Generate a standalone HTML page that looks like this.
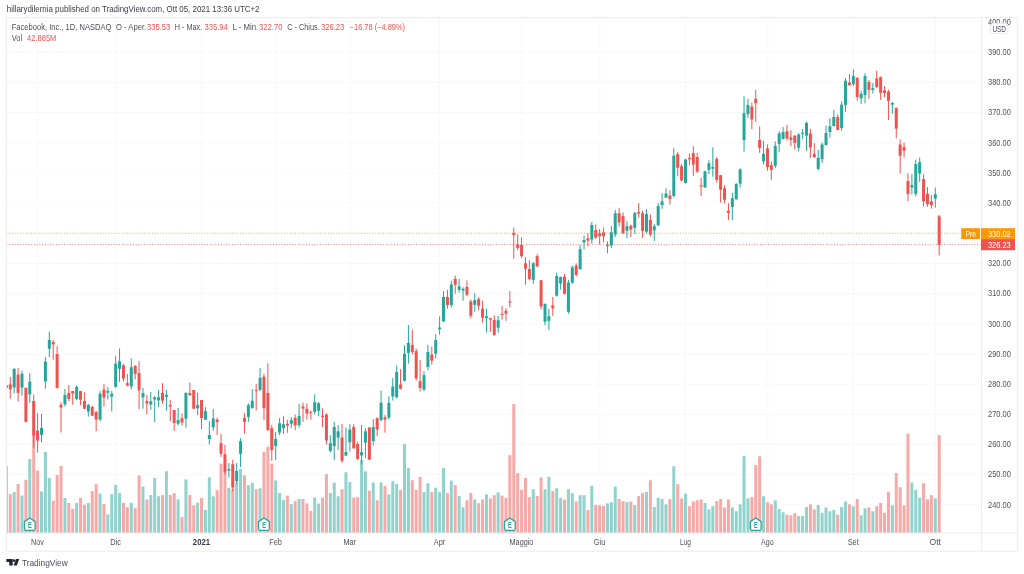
<!DOCTYPE html>
<html><head><meta charset="utf-8"><title>FB chart</title>
<style>
html,body{margin:0;padding:0;background:#fff;}
body{width:1024px;height:574px;overflow:hidden;position:relative;font-family:"Liberation Sans",sans-serif;}
svg{position:absolute;left:0;top:0;filter:blur(0.3px);}
text{font-family:"Liberation Sans",sans-serif;}
</style></head><body>
<svg width="1024" height="574" viewBox="0 0 1024 574">
<rect x="0" y="0" width="1024" height="574" fill="#ffffff"/>

<g stroke="#f7f8f9" stroke-width="1" shape-rendering="auto">
<line x1="6.4" y1="504.75" x2="981.5" y2="504.75"/>
<line x1="6.4" y1="474.59" x2="981.5" y2="474.59"/>
<line x1="6.4" y1="444.42" x2="981.5" y2="444.42"/>
<line x1="6.4" y1="414.25" x2="981.5" y2="414.25"/>
<line x1="6.4" y1="384.09" x2="981.5" y2="384.09"/>
<line x1="6.4" y1="353.92" x2="981.5" y2="353.92"/>
<line x1="6.4" y1="323.75" x2="981.5" y2="323.75"/>
<line x1="6.4" y1="293.59" x2="981.5" y2="293.59"/>
<line x1="6.4" y1="263.42" x2="981.5" y2="263.42"/>
<line x1="6.4" y1="233.25" x2="981.5" y2="233.25"/>
<line x1="6.4" y1="203.09" x2="981.5" y2="203.09"/>
<line x1="6.4" y1="172.92" x2="981.5" y2="172.92"/>
<line x1="6.4" y1="142.75" x2="981.5" y2="142.75"/>
<line x1="6.4" y1="112.58" x2="981.5" y2="112.58"/>
<line x1="6.4" y1="82.42" x2="981.5" y2="82.42"/>
<line x1="6.4" y1="52.25" x2="981.5" y2="52.25"/>
<line x1="6.4" y1="21.40" x2="981.5" y2="21.40"/>
<line x1="37.70" y1="17.5" x2="37.70" y2="533.0"/>
<line x1="115.60" y1="17.5" x2="115.60" y2="533.0"/>
<line x1="201.50" y1="17.5" x2="201.50" y2="533.0"/>
<line x1="275.50" y1="17.5" x2="275.50" y2="533.0"/>
<line x1="350.30" y1="17.5" x2="350.30" y2="533.0"/>
<line x1="439.40" y1="17.5" x2="439.40" y2="533.0"/>
<line x1="521.70" y1="17.5" x2="521.70" y2="533.0"/>
<line x1="599.90" y1="17.5" x2="599.90" y2="533.0"/>
<line x1="685.40" y1="17.5" x2="685.40" y2="533.0"/>
<line x1="767.90" y1="17.5" x2="767.90" y2="533.0"/>
<line x1="853.40" y1="17.5" x2="853.40" y2="533.0"/>
<line x1="935.50" y1="17.5" x2="935.50" y2="533.0"/>
</g>
<clipPath id="cp"><rect x="6.9" y="17.5" width="974.6" height="515.5"/></clipPath>
<g clip-path="url(#cp)">
<g fill="#92d2cc"><rect x="12.68" y="492.10" width="3.00" height="40.90"/><rect x="20.49" y="495.50" width="3.00" height="37.50"/><rect x="28.29" y="459.00" width="3.00" height="74.00"/><rect x="40.00" y="491.50" width="3.00" height="41.50"/><rect x="43.91" y="451.90" width="3.00" height="81.10"/><rect x="47.81" y="477.90" width="3.00" height="55.10"/><rect x="63.42" y="498.00" width="3.00" height="35.00"/><rect x="75.13" y="502.90" width="3.00" height="30.10"/><rect x="86.84" y="502.90" width="3.00" height="30.10"/><rect x="98.55" y="493.60" width="3.00" height="39.40"/><rect x="106.35" y="514.40" width="3.00" height="18.60"/><rect x="110.26" y="494.10" width="3.00" height="38.90"/><rect x="114.16" y="484.90" width="3.00" height="48.10"/><rect x="118.06" y="492.90" width="3.00" height="40.10"/><rect x="129.77" y="502.75" width="3.00" height="30.25"/><rect x="141.48" y="486.50" width="3.00" height="46.50"/><rect x="149.29" y="495.00" width="3.00" height="38.00"/><rect x="153.19" y="478.10" width="3.00" height="54.90"/><rect x="157.09" y="496.25" width="3.00" height="36.75"/><rect x="164.90" y="471.25" width="3.00" height="61.75"/><rect x="176.61" y="499.40" width="3.00" height="33.60"/><rect x="184.41" y="479.40" width="3.00" height="53.60"/><rect x="196.12" y="502.75" width="3.00" height="30.25"/><rect x="203.93" y="510.00" width="3.00" height="23.00"/><rect x="207.83" y="477.25" width="3.00" height="55.75"/><rect x="211.73" y="496.25" width="3.00" height="36.75"/><rect x="227.35" y="487.90" width="3.00" height="45.10"/><rect x="235.15" y="482.50" width="3.00" height="50.50"/><rect x="239.06" y="469.00" width="3.00" height="64.00"/><rect x="246.86" y="485.10" width="3.00" height="47.90"/><rect x="250.76" y="482.70" width="3.00" height="50.30"/><rect x="258.57" y="488.30" width="3.00" height="44.70"/><rect x="274.18" y="480.50" width="3.00" height="52.50"/><rect x="278.09" y="493.10" width="3.00" height="39.90"/><rect x="281.99" y="500.20" width="3.00" height="32.80"/><rect x="289.80" y="504.20" width="3.00" height="28.80"/><rect x="297.60" y="499.00" width="3.00" height="34.00"/><rect x="313.21" y="497.70" width="3.00" height="35.30"/><rect x="317.12" y="503.60" width="3.00" height="29.40"/><rect x="328.83" y="493.10" width="3.00" height="39.90"/><rect x="332.73" y="482.70" width="3.00" height="50.30"/><rect x="336.63" y="496.20" width="3.00" height="36.80"/><rect x="344.44" y="472.20" width="3.00" height="60.80"/><rect x="348.34" y="482.00" width="3.00" height="51.00"/><rect x="360.05" y="460.00" width="3.00" height="73.00"/><rect x="363.95" y="471.40" width="3.00" height="61.60"/><rect x="371.76" y="482.50" width="3.00" height="50.50"/><rect x="379.56" y="482.50" width="3.00" height="50.50"/><rect x="387.37" y="494.40" width="3.00" height="38.60"/><rect x="391.27" y="481.20" width="3.00" height="51.80"/><rect x="395.18" y="484.00" width="3.00" height="49.00"/><rect x="402.98" y="443.90" width="3.00" height="89.10"/><rect x="406.89" y="468.00" width="3.00" height="65.00"/><rect x="422.50" y="492.10" width="3.00" height="40.90"/><rect x="426.40" y="483.30" width="3.00" height="49.70"/><rect x="434.21" y="487.70" width="3.00" height="45.30"/><rect x="438.11" y="492.10" width="3.00" height="40.90"/><rect x="442.01" y="468.00" width="3.00" height="65.00"/><rect x="449.82" y="480.60" width="3.00" height="52.40"/><rect x="457.62" y="496.10" width="3.00" height="36.90"/><rect x="461.53" y="507.40" width="3.00" height="25.60"/><rect x="473.24" y="499.40" width="3.00" height="33.60"/><rect x="484.95" y="494.40" width="3.00" height="38.60"/><rect x="496.65" y="492.40" width="3.00" height="40.60"/><rect x="531.78" y="489.20" width="3.00" height="43.80"/><rect x="543.49" y="489.20" width="3.00" height="43.80"/><rect x="547.39" y="476.80" width="3.00" height="56.20"/><rect x="555.20" y="488.30" width="3.00" height="44.70"/><rect x="559.10" y="498.00" width="3.00" height="35.00"/><rect x="566.91" y="489.20" width="3.00" height="43.80"/><rect x="570.81" y="493.10" width="3.00" height="39.90"/><rect x="578.62" y="495.20" width="3.00" height="37.80"/><rect x="582.52" y="495.20" width="3.00" height="37.80"/><rect x="590.33" y="485.80" width="3.00" height="47.20"/><rect x="605.94" y="503.40" width="3.00" height="29.60"/><rect x="609.84" y="502.20" width="3.00" height="30.80"/><rect x="613.74" y="486.50" width="3.00" height="46.50"/><rect x="625.45" y="502.20" width="3.00" height="30.80"/><rect x="633.26" y="505.00" width="3.00" height="28.00"/><rect x="644.97" y="491.90" width="3.00" height="41.10"/><rect x="652.77" y="506.90" width="3.00" height="26.10"/><rect x="656.68" y="497.80" width="3.00" height="35.20"/><rect x="660.58" y="499.00" width="3.00" height="34.00"/><rect x="664.48" y="504.30" width="3.00" height="28.70"/><rect x="672.29" y="466.40" width="3.00" height="66.60"/><rect x="684.00" y="493.70" width="3.00" height="39.30"/><rect x="703.51" y="503.00" width="3.00" height="30.00"/><rect x="707.42" y="509.40" width="3.00" height="23.60"/><rect x="711.32" y="506.20" width="3.00" height="26.80"/><rect x="730.83" y="507.40" width="3.00" height="25.60"/><rect x="734.74" y="511.30" width="3.00" height="21.70"/><rect x="738.64" y="504.30" width="3.00" height="28.70"/><rect x="742.54" y="455.90" width="3.00" height="77.10"/><rect x="746.45" y="498.40" width="3.00" height="34.60"/><rect x="762.06" y="496.30" width="3.00" height="36.70"/><rect x="773.77" y="500.30" width="3.00" height="32.70"/><rect x="777.67" y="509.10" width="3.00" height="23.90"/><rect x="781.57" y="512.20" width="3.00" height="20.80"/><rect x="797.19" y="516.00" width="3.00" height="17.00"/><rect x="801.09" y="516.00" width="3.00" height="17.00"/><rect x="804.99" y="506.90" width="3.00" height="26.10"/><rect x="816.70" y="505.00" width="3.00" height="28.00"/><rect x="820.60" y="512.80" width="3.00" height="20.20"/><rect x="824.51" y="507.40" width="3.00" height="25.60"/><rect x="828.41" y="511.30" width="3.00" height="21.70"/><rect x="832.31" y="510.10" width="3.00" height="22.90"/><rect x="840.12" y="506.90" width="3.00" height="26.10"/><rect x="844.02" y="501.50" width="3.00" height="31.50"/><rect x="851.83" y="506.20" width="3.00" height="26.80"/><rect x="859.63" y="515.30" width="3.00" height="17.70"/><rect x="863.54" y="508.20" width="3.00" height="24.80"/><rect x="871.34" y="511.30" width="3.00" height="21.70"/><rect x="890.86" y="505.30" width="3.00" height="27.70"/><rect x="910.37" y="482.50" width="3.00" height="50.50"/><rect x="914.27" y="489.90" width="3.00" height="43.10"/><rect x="918.18" y="497.80" width="3.00" height="35.20"/><rect x="933.79" y="498.40" width="3.00" height="34.60"/></g>
<g fill="#f7a9a7"><rect x="4.88" y="466.00" width="3.00" height="67.00"/><rect x="8.78" y="494.10" width="3.00" height="38.90"/><rect x="16.59" y="484.00" width="3.00" height="49.00"/><rect x="24.39" y="479.75" width="3.00" height="53.25"/><rect x="32.20" y="434.00" width="3.00" height="99.00"/><rect x="36.10" y="470.60" width="3.00" height="62.40"/><rect x="51.71" y="500.80" width="3.00" height="32.20"/><rect x="55.62" y="475.00" width="3.00" height="58.00"/><rect x="59.52" y="466.00" width="3.00" height="67.00"/><rect x="67.32" y="502.90" width="3.00" height="30.10"/><rect x="71.23" y="508.75" width="3.00" height="24.25"/><rect x="79.03" y="498.10" width="3.00" height="34.90"/><rect x="82.94" y="504.75" width="3.00" height="28.25"/><rect x="90.74" y="491.00" width="3.00" height="42.00"/><rect x="94.65" y="484.30" width="3.00" height="48.70"/><rect x="102.45" y="504.00" width="3.00" height="29.00"/><rect x="121.97" y="502.80" width="3.00" height="30.20"/><rect x="125.87" y="507.25" width="3.00" height="25.75"/><rect x="133.68" y="508.10" width="3.00" height="24.90"/><rect x="137.58" y="475.40" width="3.00" height="57.60"/><rect x="145.38" y="499.40" width="3.00" height="33.60"/><rect x="161.00" y="495.00" width="3.00" height="38.00"/><rect x="168.80" y="495.00" width="3.00" height="38.00"/><rect x="172.70" y="493.10" width="3.00" height="39.90"/><rect x="180.51" y="517.10" width="3.00" height="15.90"/><rect x="188.32" y="495.00" width="3.00" height="38.00"/><rect x="192.22" y="505.25" width="3.00" height="27.75"/><rect x="200.03" y="498.10" width="3.00" height="34.90"/><rect x="215.64" y="490.25" width="3.00" height="42.75"/><rect x="219.54" y="463.60" width="3.00" height="69.40"/><rect x="223.44" y="472.00" width="3.00" height="61.00"/><rect x="231.25" y="488.75" width="3.00" height="44.25"/><rect x="242.96" y="475.40" width="3.00" height="57.60"/><rect x="254.67" y="489.20" width="3.00" height="43.80"/><rect x="262.47" y="451.90" width="3.00" height="81.10"/><rect x="266.38" y="446.60" width="3.00" height="86.40"/><rect x="270.28" y="463.60" width="3.00" height="69.40"/><rect x="285.89" y="495.60" width="3.00" height="37.40"/><rect x="293.70" y="501.10" width="3.00" height="31.90"/><rect x="301.50" y="499.00" width="3.00" height="34.00"/><rect x="305.41" y="503.40" width="3.00" height="29.60"/><rect x="309.31" y="510.90" width="3.00" height="22.10"/><rect x="321.02" y="497.70" width="3.00" height="35.30"/><rect x="324.92" y="474.10" width="3.00" height="58.90"/><rect x="340.53" y="489.20" width="3.00" height="43.80"/><rect x="352.24" y="497.70" width="3.00" height="35.30"/><rect x="356.15" y="497.10" width="3.00" height="35.90"/><rect x="367.86" y="490.60" width="3.00" height="42.40"/><rect x="375.66" y="500.30" width="3.00" height="32.70"/><rect x="383.47" y="485.80" width="3.00" height="47.20"/><rect x="399.08" y="489.90" width="3.00" height="43.10"/><rect x="410.79" y="480.20" width="3.00" height="52.80"/><rect x="414.69" y="489.90" width="3.00" height="43.10"/><rect x="418.59" y="476.80" width="3.00" height="56.20"/><rect x="430.30" y="492.10" width="3.00" height="40.90"/><rect x="445.92" y="493.10" width="3.00" height="39.90"/><rect x="453.72" y="485.20" width="3.00" height="47.80"/><rect x="465.43" y="500.30" width="3.00" height="32.70"/><rect x="469.33" y="493.10" width="3.00" height="39.90"/><rect x="477.14" y="503.20" width="3.00" height="29.80"/><rect x="481.04" y="499.40" width="3.00" height="33.60"/><rect x="488.85" y="498.40" width="3.00" height="34.60"/><rect x="492.75" y="495.20" width="3.00" height="37.80"/><rect x="500.56" y="495.60" width="3.00" height="37.40"/><rect x="504.46" y="497.80" width="3.00" height="35.20"/><rect x="508.36" y="455.20" width="3.00" height="77.80"/><rect x="512.27" y="404.00" width="3.00" height="129.00"/><rect x="516.17" y="473.00" width="3.00" height="60.00"/><rect x="520.07" y="489.90" width="3.00" height="43.10"/><rect x="523.98" y="478.10" width="3.00" height="54.90"/><rect x="527.88" y="497.10" width="3.00" height="35.90"/><rect x="535.68" y="496.10" width="3.00" height="36.90"/><rect x="539.59" y="477.30" width="3.00" height="55.70"/><rect x="551.30" y="491.10" width="3.00" height="41.90"/><rect x="563.00" y="499.60" width="3.00" height="33.40"/><rect x="574.71" y="501.50" width="3.00" height="31.50"/><rect x="586.42" y="510.10" width="3.00" height="22.90"/><rect x="594.23" y="504.90" width="3.00" height="28.10"/><rect x="598.13" y="505.30" width="3.00" height="27.70"/><rect x="602.04" y="505.90" width="3.00" height="27.10"/><rect x="617.65" y="499.00" width="3.00" height="34.00"/><rect x="621.55" y="501.10" width="3.00" height="31.90"/><rect x="629.36" y="501.50" width="3.00" height="31.50"/><rect x="637.16" y="496.10" width="3.00" height="36.90"/><rect x="641.07" y="493.10" width="3.00" height="39.90"/><rect x="648.87" y="480.20" width="3.00" height="52.80"/><rect x="668.39" y="499.00" width="3.00" height="34.00"/><rect x="676.19" y="484.20" width="3.00" height="48.80"/><rect x="680.10" y="498.40" width="3.00" height="34.60"/><rect x="687.90" y="506.20" width="3.00" height="26.80"/><rect x="691.80" y="501.50" width="3.00" height="31.50"/><rect x="695.71" y="500.30" width="3.00" height="32.70"/><rect x="699.61" y="499.40" width="3.00" height="33.60"/><rect x="715.22" y="501.10" width="3.00" height="31.90"/><rect x="719.12" y="499.00" width="3.00" height="34.00"/><rect x="723.03" y="507.40" width="3.00" height="25.60"/><rect x="726.93" y="499.40" width="3.00" height="33.60"/><rect x="750.35" y="497.10" width="3.00" height="35.90"/><rect x="754.25" y="465.10" width="3.00" height="67.90"/><rect x="758.15" y="456.30" width="3.00" height="76.70"/><rect x="765.96" y="502.20" width="3.00" height="30.80"/><rect x="769.86" y="504.30" width="3.00" height="28.70"/><rect x="785.48" y="514.70" width="3.00" height="18.30"/><rect x="789.38" y="515.30" width="3.00" height="17.70"/><rect x="793.28" y="513.20" width="3.00" height="19.80"/><rect x="808.89" y="504.30" width="3.00" height="28.70"/><rect x="812.80" y="509.40" width="3.00" height="23.60"/><rect x="836.22" y="514.70" width="3.00" height="18.30"/><rect x="847.92" y="504.30" width="3.00" height="28.70"/><rect x="855.73" y="499.00" width="3.00" height="34.00"/><rect x="867.44" y="507.40" width="3.00" height="25.60"/><rect x="875.25" y="506.20" width="3.00" height="26.80"/><rect x="879.15" y="503.00" width="3.00" height="30.00"/><rect x="883.05" y="512.80" width="3.00" height="20.20"/><rect x="886.95" y="491.90" width="3.00" height="41.10"/><rect x="894.76" y="473.00" width="3.00" height="60.00"/><rect x="898.66" y="487.30" width="3.00" height="45.70"/><rect x="902.57" y="505.30" width="3.00" height="27.70"/><rect x="906.47" y="433.60" width="3.00" height="99.40"/><rect x="922.08" y="483.30" width="3.00" height="49.70"/><rect x="925.98" y="499.40" width="3.00" height="33.60"/><rect x="929.89" y="495.20" width="3.00" height="37.80"/><rect x="937.69" y="435.10" width="3.00" height="97.90"/></g>
<g fill="#26a69a"><rect x="13.68" y="368.00" width="1" height="25.50"/><rect x="12.68" y="369.00" width="3.00" height="18.50"/><rect x="21.49" y="370.60" width="1" height="25.00"/><rect x="20.49" y="373.75" width="3.00" height="13.85"/><rect x="29.29" y="373.10" width="1" height="29.80"/><rect x="28.29" y="381.60" width="3.00" height="12.80"/><rect x="41.00" y="413.75" width="1" height="28.65"/><rect x="40.00" y="427.90" width="3.00" height="7.00"/><rect x="44.91" y="356.90" width="1" height="31.70"/><rect x="43.91" y="361.60" width="3.00" height="19.80"/><rect x="48.81" y="331.50" width="1" height="25.75"/><rect x="47.81" y="340.00" width="3.00" height="8.75"/><rect x="64.42" y="389.00" width="1" height="17.60"/><rect x="63.42" y="395.00" width="3.00" height="9.40"/><rect x="76.13" y="385.60" width="1" height="14.40"/><rect x="75.13" y="386.90" width="3.00" height="12.10"/><rect x="87.84" y="403.75" width="1" height="12.85"/><rect x="86.84" y="405.00" width="3.00" height="6.50"/><rect x="99.55" y="391.00" width="1" height="30.25"/><rect x="98.55" y="393.75" width="3.00" height="25.85"/><rect x="107.35" y="387.00" width="1" height="12.60"/><rect x="106.35" y="391.00" width="3.00" height="1.75"/><rect x="111.26" y="391.00" width="1" height="20.50"/><rect x="110.26" y="393.75" width="3.00" height="2.85"/><rect x="115.16" y="356.25" width="1" height="31.25"/><rect x="114.16" y="363.75" width="3.00" height="23.15"/><rect x="119.06" y="348.50" width="1" height="33.40"/><rect x="118.06" y="361.25" width="3.00" height="7.50"/><rect x="130.77" y="358.50" width="1" height="31.10"/><rect x="129.77" y="367.25" width="3.00" height="19.25"/><rect x="142.48" y="387.75" width="1" height="21.00"/><rect x="141.48" y="393.10" width="3.00" height="4.40"/><rect x="150.29" y="391.90" width="1" height="18.10"/><rect x="149.29" y="401.25" width="3.00" height="3.15"/><rect x="154.19" y="396.25" width="1" height="25.65"/><rect x="153.19" y="397.25" width="3.00" height="2.15"/><rect x="158.09" y="390.00" width="1" height="16.90"/><rect x="157.09" y="397.25" width="3.00" height="3.15"/><rect x="165.90" y="390.00" width="1" height="20.60"/><rect x="164.90" y="394.75" width="3.00" height="2.15"/><rect x="177.61" y="408.00" width="1" height="17.60"/><rect x="176.61" y="420.00" width="3.00" height="3.75"/><rect x="185.41" y="392.75" width="1" height="35.00"/><rect x="184.41" y="392.75" width="3.00" height="26.00"/><rect x="197.12" y="392.75" width="1" height="22.50"/><rect x="196.12" y="404.90" width="3.00" height="3.40"/><rect x="204.93" y="407.10" width="1" height="12.90"/><rect x="203.93" y="411.10" width="3.00" height="8.65"/><rect x="208.83" y="421.25" width="1" height="23.15"/><rect x="207.83" y="435.00" width="3.00" height="4.00"/><rect x="212.73" y="409.10" width="1" height="21.50"/><rect x="211.73" y="418.50" width="3.00" height="8.75"/><rect x="228.35" y="463.00" width="1" height="14.50"/><rect x="227.35" y="469.00" width="3.00" height="1.60"/><rect x="236.15" y="463.00" width="1" height="20.75"/><rect x="235.15" y="471.00" width="3.00" height="10.25"/><rect x="240.06" y="438.10" width="1" height="28.80"/><rect x="239.06" y="441.20" width="3.00" height="12.60"/><rect x="247.86" y="403.30" width="1" height="18.60"/><rect x="246.86" y="405.10" width="3.00" height="11.80"/><rect x="251.76" y="389.10" width="1" height="19.40"/><rect x="250.76" y="400.80" width="3.00" height="7.40"/><rect x="259.57" y="367.90" width="1" height="23.30"/><rect x="258.57" y="377.90" width="3.00" height="12.00"/><rect x="275.18" y="432.00" width="1" height="28.00"/><rect x="274.18" y="438.90" width="3.00" height="7.20"/><rect x="279.09" y="417.90" width="1" height="17.20"/><rect x="278.09" y="423.20" width="3.00" height="9.40"/><rect x="282.99" y="416.30" width="1" height="17.30"/><rect x="281.99" y="424.20" width="3.00" height="3.80"/><rect x="290.80" y="417.20" width="1" height="11.00"/><rect x="289.80" y="420.10" width="3.00" height="3.70"/><rect x="298.60" y="403.95" width="1" height="23.65"/><rect x="297.60" y="416.00" width="3.00" height="9.10"/><rect x="314.21" y="394.20" width="1" height="20.30"/><rect x="313.21" y="402.10" width="3.00" height="9.90"/><rect x="318.12" y="402.10" width="1" height="14.20"/><rect x="317.12" y="403.30" width="3.00" height="7.45"/><rect x="329.83" y="435.10" width="1" height="17.35"/><rect x="328.83" y="443.20" width="3.00" height="7.70"/><rect x="333.73" y="421.70" width="1" height="38.30"/><rect x="332.73" y="427.00" width="3.00" height="19.10"/><rect x="337.63" y="425.10" width="1" height="24.75"/><rect x="336.63" y="431.30" width="3.00" height="6.30"/><rect x="345.44" y="427.60" width="1" height="28.40"/><rect x="344.44" y="452.00" width="3.00" height="3.55"/><rect x="349.34" y="424.20" width="1" height="27.35"/><rect x="348.34" y="429.50" width="3.00" height="12.85"/><rect x="361.05" y="425.10" width="1" height="39.40"/><rect x="360.05" y="452.10" width="3.00" height="3.40"/><rect x="364.95" y="428.20" width="1" height="29.55"/><rect x="363.95" y="431.35" width="3.00" height="11.30"/><rect x="372.76" y="419.10" width="1" height="26.50"/><rect x="371.76" y="427.00" width="3.00" height="14.00"/><rect x="380.56" y="390.50" width="1" height="30.80"/><rect x="379.56" y="402.80" width="3.00" height="17.30"/><rect x="388.37" y="396.20" width="1" height="23.30"/><rect x="387.37" y="402.80" width="3.00" height="14.80"/><rect x="392.27" y="378.10" width="1" height="22.40"/><rect x="391.27" y="386.50" width="3.00" height="10.00"/><rect x="396.18" y="365.50" width="1" height="32.95"/><rect x="395.18" y="372.00" width="3.00" height="25.20"/><rect x="403.98" y="345.30" width="1" height="36.20"/><rect x="402.98" y="353.80" width="3.00" height="27.00"/><rect x="407.89" y="325.00" width="1" height="38.60"/><rect x="406.89" y="342.90" width="3.00" height="10.10"/><rect x="423.50" y="371.20" width="1" height="20.00"/><rect x="422.50" y="375.20" width="3.00" height="14.40"/><rect x="427.40" y="344.80" width="1" height="25.40"/><rect x="426.40" y="352.00" width="3.00" height="15.00"/><rect x="435.21" y="334.30" width="1" height="24.30"/><rect x="434.21" y="340.10" width="3.00" height="13.70"/><rect x="439.11" y="316.40" width="1" height="18.30"/><rect x="438.11" y="327.50" width="3.00" height="1.70"/><rect x="443.01" y="291.10" width="1" height="30.90"/><rect x="442.01" y="297.00" width="3.00" height="24.40"/><rect x="450.82" y="280.70" width="1" height="26.90"/><rect x="449.82" y="284.40" width="3.00" height="20.50"/><rect x="458.62" y="279.00" width="1" height="13.60"/><rect x="457.62" y="286.30" width="3.00" height="3.50"/><rect x="462.53" y="287.30" width="1" height="13.40"/><rect x="461.53" y="288.80" width="3.00" height="1.70"/><rect x="474.24" y="293.00" width="1" height="18.70"/><rect x="473.24" y="300.10" width="3.00" height="4.80"/><rect x="485.95" y="308.60" width="1" height="23.90"/><rect x="484.95" y="316.20" width="3.00" height="1.90"/><rect x="497.65" y="315.80" width="1" height="16.90"/><rect x="496.65" y="320.20" width="3.00" height="7.50"/><rect x="532.78" y="262.00" width="1" height="22.00"/><rect x="531.78" y="263.30" width="3.00" height="16.60"/><rect x="544.49" y="303.50" width="1" height="21.70"/><rect x="543.49" y="303.90" width="3.00" height="17.80"/><rect x="548.39" y="308.90" width="1" height="21.10"/><rect x="547.39" y="316.20" width="3.00" height="4.60"/><rect x="556.20" y="272.60" width="1" height="24.00"/><rect x="555.20" y="276.00" width="3.00" height="19.70"/><rect x="560.10" y="276.50" width="1" height="12.90"/><rect x="559.10" y="277.00" width="3.00" height="6.50"/><rect x="567.91" y="280.00" width="1" height="33.70"/><rect x="566.91" y="282.50" width="3.00" height="29.30"/><rect x="571.81" y="265.40" width="1" height="18.60"/><rect x="570.81" y="267.40" width="3.00" height="15.25"/><rect x="579.62" y="245.10" width="1" height="24.90"/><rect x="578.62" y="249.10" width="3.00" height="19.90"/><rect x="583.52" y="235.70" width="1" height="13.80"/><rect x="582.52" y="240.10" width="3.00" height="2.30"/><rect x="591.33" y="221.90" width="1" height="21.70"/><rect x="590.33" y="225.00" width="3.00" height="14.50"/><rect x="606.94" y="241.30" width="1" height="12.00"/><rect x="605.94" y="244.90" width="3.00" height="1.20"/><rect x="610.84" y="225.90" width="1" height="21.95"/><rect x="609.84" y="232.20" width="3.00" height="13.30"/><rect x="614.74" y="209.90" width="1" height="26.95"/><rect x="613.74" y="213.20" width="3.00" height="21.30"/><rect x="626.45" y="221.20" width="1" height="16.80"/><rect x="625.45" y="226.20" width="3.00" height="4.60"/><rect x="634.26" y="212.00" width="1" height="22.20"/><rect x="633.26" y="212.90" width="3.00" height="14.80"/><rect x="645.97" y="209.10" width="1" height="24.20"/><rect x="644.97" y="214.10" width="3.00" height="17.60"/><rect x="653.77" y="224.20" width="1" height="16.70"/><rect x="652.77" y="226.20" width="3.00" height="4.20"/><rect x="657.68" y="203.20" width="1" height="22.80"/><rect x="656.68" y="206.10" width="3.00" height="19.30"/><rect x="661.58" y="193.10" width="1" height="15.80"/><rect x="660.58" y="201.30" width="3.00" height="3.80"/><rect x="665.48" y="188.30" width="1" height="9.70"/><rect x="664.48" y="193.50" width="3.00" height="4.10"/><rect x="673.29" y="148.20" width="1" height="49.40"/><rect x="672.29" y="155.70" width="3.00" height="40.30"/><rect x="685.00" y="158.90" width="1" height="24.60"/><rect x="684.00" y="159.50" width="3.00" height="23.40"/><rect x="704.51" y="170.80" width="1" height="17.20"/><rect x="703.51" y="171.20" width="3.00" height="16.20"/><rect x="708.42" y="160.10" width="1" height="14.10"/><rect x="707.42" y="163.30" width="3.00" height="6.60"/><rect x="712.32" y="147.30" width="1" height="29.40"/><rect x="711.32" y="167.00" width="3.00" height="1.70"/><rect x="731.83" y="192.85" width="1" height="27.35"/><rect x="730.83" y="198.20" width="3.00" height="8.80"/><rect x="735.74" y="183.00" width="1" height="16.80"/><rect x="734.74" y="184.10" width="3.00" height="15.10"/><rect x="739.64" y="168.30" width="1" height="19.20"/><rect x="738.64" y="169.35" width="3.00" height="14.35"/><rect x="743.54" y="96.30" width="1" height="55.25"/><rect x="742.54" y="113.20" width="3.00" height="26.90"/><rect x="747.45" y="98.80" width="1" height="19.10"/><rect x="746.45" y="105.10" width="3.00" height="9.00"/><rect x="763.06" y="140.80" width="1" height="23.70"/><rect x="762.06" y="153.85" width="3.00" height="7.55"/><rect x="774.77" y="141.50" width="1" height="26.80"/><rect x="773.77" y="145.90" width="3.00" height="19.90"/><rect x="778.67" y="131.20" width="1" height="20.85"/><rect x="777.67" y="133.40" width="3.00" height="10.65"/><rect x="782.57" y="127.00" width="1" height="12.50"/><rect x="781.57" y="132.10" width="3.00" height="6.80"/><rect x="798.19" y="133.30" width="1" height="18.10"/><rect x="797.19" y="134.50" width="3.00" height="13.15"/><rect x="802.09" y="128.90" width="1" height="9.70"/><rect x="801.09" y="132.80" width="3.00" height="1.10"/><rect x="805.99" y="121.60" width="1" height="29.20"/><rect x="804.99" y="122.90" width="3.00" height="12.80"/><rect x="817.70" y="149.80" width="1" height="20.60"/><rect x="816.70" y="157.90" width="3.00" height="11.00"/><rect x="821.60" y="142.50" width="1" height="20.40"/><rect x="820.60" y="144.50" width="3.00" height="14.60"/><rect x="825.51" y="125.40" width="1" height="20.10"/><rect x="824.51" y="132.90" width="3.00" height="12.10"/><rect x="829.41" y="118.30" width="1" height="19.30"/><rect x="828.41" y="126.20" width="3.00" height="5.80"/><rect x="833.31" y="110.15" width="1" height="16.35"/><rect x="832.31" y="117.05" width="3.00" height="9.00"/><rect x="841.12" y="101.35" width="1" height="29.45"/><rect x="840.12" y="104.65" width="3.00" height="23.35"/><rect x="845.02" y="78.20" width="1" height="33.65"/><rect x="844.02" y="80.70" width="3.00" height="24.15"/><rect x="852.83" y="69.40" width="1" height="16.70"/><rect x="851.83" y="76.10" width="3.00" height="8.00"/><rect x="860.63" y="90.85" width="1" height="13.00"/><rect x="859.63" y="93.70" width="3.00" height="4.75"/><rect x="864.54" y="73.20" width="1" height="30.10"/><rect x="863.54" y="76.10" width="3.00" height="18.95"/><rect x="872.34" y="83.20" width="1" height="10.10"/><rect x="871.34" y="88.20" width="3.00" height="1.70"/><rect x="891.86" y="102.05" width="1" height="11.60"/><rect x="890.86" y="102.95" width="3.00" height="1.75"/><rect x="911.37" y="174.10" width="1" height="20.40"/><rect x="910.37" y="185.10" width="3.00" height="2.30"/><rect x="915.27" y="159.70" width="1" height="36.70"/><rect x="914.27" y="164.05" width="3.00" height="29.85"/><rect x="919.18" y="157.50" width="1" height="24.50"/><rect x="918.18" y="162.15" width="3.00" height="11.45"/><rect x="934.79" y="187.60" width="1" height="20.10"/><rect x="933.79" y="194.20" width="3.00" height="4.50"/></g>
<g fill="#ef5350"><rect x="5.88" y="385.00" width="1" height="3.00"/><rect x="4.88" y="385.00" width="3.00" height="3.00"/><rect x="9.78" y="376.90" width="1" height="21.85"/><rect x="8.78" y="384.40" width="3.00" height="5.00"/><rect x="17.59" y="368.10" width="1" height="33.40"/><rect x="16.59" y="374.60" width="3.00" height="18.30"/><rect x="25.39" y="387.75" width="1" height="34.75"/><rect x="24.39" y="387.75" width="3.00" height="34.15"/><rect x="33.20" y="394.40" width="1" height="53.10"/><rect x="32.20" y="401.00" width="3.00" height="34.50"/><rect x="37.10" y="413.10" width="1" height="39.40"/><rect x="36.10" y="430.60" width="3.00" height="10.00"/><rect x="52.71" y="340.00" width="1" height="19.75"/><rect x="51.71" y="341.90" width="3.00" height="2.50"/><rect x="56.62" y="346.00" width="1" height="42.50"/><rect x="55.62" y="354.00" width="3.00" height="34.00"/><rect x="60.52" y="402.25" width="1" height="30.25"/><rect x="59.52" y="404.75" width="3.00" height="2.75"/><rect x="68.32" y="385.00" width="1" height="16.00"/><rect x="67.32" y="392.90" width="3.00" height="6.10"/><rect x="72.23" y="391.00" width="1" height="13.75"/><rect x="71.23" y="391.00" width="3.00" height="2.50"/><rect x="80.03" y="391.00" width="1" height="14.00"/><rect x="79.03" y="391.00" width="3.00" height="8.75"/><rect x="83.94" y="392.25" width="1" height="16.75"/><rect x="82.94" y="401.00" width="3.00" height="7.75"/><rect x="91.74" y="405.60" width="1" height="10.40"/><rect x="90.74" y="406.90" width="3.00" height="8.70"/><rect x="95.65" y="411.00" width="1" height="20.25"/><rect x="94.65" y="411.90" width="3.00" height="7.70"/><rect x="103.45" y="384.00" width="1" height="22.50"/><rect x="102.45" y="389.60" width="3.00" height="7.90"/><rect x="122.97" y="363.90" width="1" height="17.35"/><rect x="121.97" y="365.30" width="3.00" height="13.30"/><rect x="126.87" y="374.10" width="1" height="12.40"/><rect x="125.87" y="383.10" width="3.00" height="2.50"/><rect x="134.68" y="365.00" width="1" height="14.40"/><rect x="133.68" y="366.00" width="3.00" height="8.00"/><rect x="138.58" y="361.00" width="1" height="48.40"/><rect x="137.58" y="373.10" width="3.00" height="17.30"/><rect x="146.38" y="395.00" width="1" height="19.40"/><rect x="145.38" y="400.90" width="3.00" height="2.60"/><rect x="162.00" y="383.10" width="1" height="20.65"/><rect x="161.00" y="392.90" width="3.00" height="7.70"/><rect x="169.80" y="400.00" width="1" height="21.25"/><rect x="168.80" y="404.90" width="3.00" height="1.50"/><rect x="173.70" y="410.00" width="1" height="21.00"/><rect x="172.70" y="410.00" width="3.00" height="13.10"/><rect x="181.51" y="413.50" width="1" height="12.10"/><rect x="180.51" y="418.10" width="3.00" height="4.40"/><rect x="189.32" y="382.50" width="1" height="13.50"/><rect x="188.32" y="393.10" width="3.00" height="1.90"/><rect x="193.22" y="390.00" width="1" height="19.00"/><rect x="192.22" y="390.00" width="3.00" height="18.75"/><rect x="201.03" y="400.00" width="1" height="29.40"/><rect x="200.03" y="400.00" width="3.00" height="18.10"/><rect x="216.64" y="417.75" width="1" height="17.25"/><rect x="215.64" y="419.60" width="3.00" height="2.50"/><rect x="220.54" y="434.00" width="1" height="23.10"/><rect x="219.54" y="443.10" width="3.00" height="10.65"/><rect x="224.44" y="445.00" width="1" height="29.40"/><rect x="223.44" y="454.20" width="3.00" height="17.70"/><rect x="232.25" y="459.75" width="1" height="31.50"/><rect x="231.25" y="464.20" width="3.00" height="23.30"/><rect x="243.96" y="413.20" width="1" height="20.60"/><rect x="242.96" y="417.90" width="3.00" height="4.00"/><rect x="255.67" y="383.90" width="1" height="26.60"/><rect x="254.67" y="389.90" width="3.00" height="1.00"/><rect x="263.47" y="373.80" width="1" height="46.20"/><rect x="262.47" y="376.60" width="3.00" height="31.60"/><rect x="267.38" y="363.20" width="1" height="67.50"/><rect x="266.38" y="392.90" width="3.00" height="37.20"/><rect x="271.28" y="425.10" width="1" height="35.70"/><rect x="270.28" y="428.20" width="3.00" height="21.70"/><rect x="286.89" y="419.80" width="1" height="13.10"/><rect x="285.89" y="423.80" width="3.00" height="1.70"/><rect x="294.70" y="414.50" width="1" height="15.60"/><rect x="293.70" y="417.90" width="3.00" height="7.60"/><rect x="302.50" y="402.70" width="1" height="19.00"/><rect x="301.50" y="406.50" width="3.00" height="2.10"/><rect x="306.41" y="403.30" width="1" height="16.40"/><rect x="305.41" y="408.75" width="3.00" height="4.85"/><rect x="310.31" y="410.50" width="1" height="9.20"/><rect x="309.31" y="411.80" width="3.00" height="1.00"/><rect x="322.02" y="408.40" width="1" height="18.60"/><rect x="321.02" y="415.80" width="3.00" height="1.10"/><rect x="325.92" y="413.30" width="1" height="31.20"/><rect x="324.92" y="414.50" width="3.00" height="26.00"/><rect x="341.53" y="423.80" width="1" height="39.05"/><rect x="340.53" y="437.40" width="3.00" height="23.35"/><rect x="353.24" y="424.20" width="1" height="24.60"/><rect x="352.24" y="427.00" width="3.00" height="21.25"/><rect x="357.15" y="441.40" width="1" height="18.60"/><rect x="356.15" y="444.05" width="3.00" height="14.85"/><rect x="368.86" y="427.00" width="1" height="33.00"/><rect x="367.86" y="427.60" width="3.00" height="32.00"/><rect x="376.66" y="417.30" width="1" height="19.10"/><rect x="375.66" y="418.20" width="3.00" height="11.30"/><rect x="384.47" y="415.10" width="1" height="17.50"/><rect x="383.47" y="417.30" width="3.00" height="2.20"/><rect x="400.08" y="369.10" width="1" height="20.40"/><rect x="399.08" y="384.60" width="3.00" height="4.10"/><rect x="411.79" y="329.60" width="1" height="24.90"/><rect x="410.79" y="344.80" width="3.00" height="7.20"/><rect x="415.69" y="348.60" width="1" height="32.00"/><rect x="414.69" y="351.10" width="3.00" height="27.20"/><rect x="419.59" y="359.90" width="1" height="31.60"/><rect x="418.59" y="381.20" width="3.00" height="6.80"/><rect x="431.30" y="346.60" width="1" height="17.90"/><rect x="430.30" y="354.50" width="3.00" height="6.20"/><rect x="446.92" y="289.80" width="1" height="18.80"/><rect x="445.92" y="297.00" width="3.00" height="7.90"/><rect x="454.72" y="275.60" width="1" height="18.20"/><rect x="453.72" y="279.00" width="3.00" height="5.80"/><rect x="466.43" y="280.30" width="1" height="15.80"/><rect x="465.43" y="286.90" width="3.00" height="7.90"/><rect x="470.33" y="299.50" width="1" height="18.80"/><rect x="469.33" y="301.40" width="3.00" height="14.40"/><rect x="478.14" y="297.00" width="1" height="13.40"/><rect x="477.14" y="299.10" width="3.00" height="6.70"/><rect x="482.04" y="300.70" width="1" height="22.00"/><rect x="481.04" y="308.60" width="3.00" height="9.10"/><rect x="489.85" y="317.70" width="1" height="14.20"/><rect x="488.85" y="318.10" width="3.00" height="1.50"/><rect x="493.75" y="315.20" width="1" height="20.70"/><rect x="492.75" y="319.90" width="3.00" height="15.10"/><rect x="501.56" y="306.00" width="1" height="13.60"/><rect x="500.56" y="313.90" width="3.00" height="1.00"/><rect x="505.46" y="308.30" width="1" height="12.50"/><rect x="504.46" y="310.80" width="3.00" height="2.90"/><rect x="509.36" y="291.10" width="1" height="16.50"/><rect x="508.36" y="301.40" width="3.00" height="1.20"/><rect x="513.27" y="227.50" width="1" height="31.20"/><rect x="512.27" y="232.80" width="3.00" height="2.30"/><rect x="517.17" y="234.40" width="1" height="15.70"/><rect x="516.17" y="244.50" width="3.00" height="3.40"/><rect x="521.07" y="237.30" width="1" height="20.40"/><rect x="520.07" y="244.90" width="3.00" height="11.30"/><rect x="524.98" y="257.00" width="1" height="27.70"/><rect x="523.98" y="263.30" width="3.00" height="5.40"/><rect x="528.88" y="260.20" width="1" height="20.05"/><rect x="527.88" y="269.00" width="3.00" height="9.90"/><rect x="536.68" y="254.10" width="1" height="13.30"/><rect x="535.68" y="256.20" width="3.00" height="10.20"/><rect x="540.59" y="280.00" width="1" height="29.50"/><rect x="539.59" y="280.25" width="3.00" height="26.15"/><rect x="552.30" y="297.00" width="1" height="18.80"/><rect x="551.30" y="305.40" width="3.00" height="2.90"/><rect x="564.00" y="274.00" width="1" height="20.50"/><rect x="563.00" y="276.70" width="3.00" height="17.10"/><rect x="575.71" y="263.30" width="1" height="13.10"/><rect x="574.71" y="265.40" width="3.00" height="9.50"/><rect x="587.42" y="233.20" width="1" height="13.20"/><rect x="586.42" y="238.20" width="3.00" height="2.30"/><rect x="595.23" y="224.40" width="1" height="14.40"/><rect x="594.23" y="230.10" width="3.00" height="7.50"/><rect x="599.13" y="229.00" width="1" height="15.50"/><rect x="598.13" y="233.20" width="3.00" height="2.90"/><rect x="603.04" y="227.50" width="1" height="14.90"/><rect x="602.04" y="232.30" width="3.00" height="4.00"/><rect x="618.65" y="207.90" width="1" height="18.70"/><rect x="617.65" y="213.20" width="3.00" height="9.30"/><rect x="622.55" y="212.40" width="1" height="21.60"/><rect x="621.55" y="216.10" width="3.00" height="17.15"/><rect x="630.36" y="224.50" width="1" height="12.60"/><rect x="629.36" y="225.80" width="3.00" height="3.80"/><rect x="638.16" y="203.20" width="1" height="14.40"/><rect x="637.16" y="212.00" width="3.00" height="1.60"/><rect x="642.07" y="210.70" width="1" height="27.00"/><rect x="641.07" y="213.20" width="3.00" height="17.60"/><rect x="649.87" y="214.50" width="1" height="22.00"/><rect x="648.87" y="219.90" width="3.00" height="14.70"/><rect x="669.39" y="190.25" width="1" height="14.25"/><rect x="668.39" y="195.50" width="3.00" height="3.60"/><rect x="677.19" y="152.00" width="1" height="24.40"/><rect x="676.19" y="154.10" width="3.00" height="13.60"/><rect x="681.10" y="164.10" width="1" height="17.30"/><rect x="680.10" y="166.20" width="3.00" height="14.30"/><rect x="688.90" y="153.60" width="1" height="11.60"/><rect x="687.90" y="157.90" width="3.00" height="1.20"/><rect x="692.80" y="146.30" width="1" height="29.50"/><rect x="691.80" y="153.20" width="3.00" height="11.30"/><rect x="696.71" y="152.90" width="1" height="20.00"/><rect x="695.71" y="157.00" width="3.00" height="14.70"/><rect x="700.61" y="177.90" width="1" height="18.10"/><rect x="699.61" y="185.30" width="3.00" height="1.20"/><rect x="716.22" y="157.00" width="1" height="25.65"/><rect x="715.22" y="158.90" width="3.00" height="21.10"/><rect x="720.12" y="175.00" width="1" height="27.60"/><rect x="719.12" y="175.20" width="3.00" height="14.50"/><rect x="724.03" y="185.10" width="1" height="18.10"/><rect x="723.03" y="188.30" width="3.00" height="11.50"/><rect x="727.93" y="203.20" width="1" height="17.00"/><rect x="726.93" y="210.70" width="3.00" height="2.20"/><rect x="751.35" y="102.80" width="1" height="26.50"/><rect x="750.35" y="106.60" width="3.00" height="12.90"/><rect x="755.25" y="89.80" width="1" height="32.20"/><rect x="754.25" y="98.80" width="3.00" height="4.40"/><rect x="759.15" y="126.35" width="1" height="26.50"/><rect x="758.15" y="140.00" width="3.00" height="8.15"/><rect x="766.96" y="144.50" width="1" height="26.30"/><rect x="765.96" y="148.40" width="3.00" height="18.60"/><rect x="770.86" y="161.60" width="1" height="18.60"/><rect x="769.86" y="165.10" width="3.00" height="4.80"/><rect x="786.48" y="124.90" width="1" height="15.85"/><rect x="785.48" y="131.20" width="3.00" height="7.40"/><rect x="790.38" y="130.20" width="1" height="16.05"/><rect x="789.38" y="137.35" width="3.00" height="2.55"/><rect x="794.28" y="135.00" width="1" height="14.50"/><rect x="793.28" y="135.70" width="3.00" height="7.25"/><rect x="809.89" y="128.90" width="1" height="29.00"/><rect x="808.89" y="133.40" width="3.00" height="14.15"/><rect x="813.80" y="143.10" width="1" height="14.90"/><rect x="812.80" y="153.80" width="3.00" height="3.20"/><rect x="837.22" y="114.35" width="1" height="16.05"/><rect x="836.22" y="117.05" width="3.00" height="12.85"/><rect x="848.92" y="74.10" width="1" height="12.00"/><rect x="847.92" y="82.60" width="3.00" height="2.50"/><rect x="856.73" y="77.30" width="1" height="23.45"/><rect x="855.73" y="77.80" width="3.00" height="19.20"/><rect x="868.44" y="79.85" width="1" height="18.85"/><rect x="867.44" y="82.00" width="3.00" height="7.90"/><rect x="876.25" y="70.60" width="1" height="17.60"/><rect x="875.25" y="78.40" width="3.00" height="8.60"/><rect x="880.15" y="76.50" width="1" height="23.40"/><rect x="879.15" y="77.15" width="3.00" height="15.65"/><rect x="884.05" y="86.10" width="1" height="11.10"/><rect x="883.05" y="90.30" width="3.00" height="2.80"/><rect x="887.95" y="89.90" width="1" height="30.10"/><rect x="886.95" y="91.55" width="3.00" height="9.40"/><rect x="895.76" y="107.50" width="1" height="30.80"/><rect x="894.76" y="107.85" width="3.00" height="20.75"/><rect x="899.66" y="139.50" width="1" height="34.10"/><rect x="898.66" y="144.50" width="3.00" height="11.20"/><rect x="903.57" y="142.70" width="1" height="14.70"/><rect x="902.57" y="147.10" width="3.00" height="3.60"/><rect x="907.47" y="173.20" width="1" height="28.00"/><rect x="906.47" y="181.10" width="3.00" height="12.80"/><rect x="923.08" y="174.10" width="1" height="32.40"/><rect x="922.08" y="179.10" width="3.00" height="22.10"/><rect x="926.98" y="187.00" width="1" height="19.70"/><rect x="925.98" y="193.70" width="3.00" height="10.50"/><rect x="930.89" y="195.20" width="1" height="13.50"/><rect x="929.89" y="201.40" width="3.00" height="3.60"/><rect x="938.69" y="215.00" width="1" height="40.50"/><rect x="937.69" y="216.30" width="3.00" height="28.50"/></g>
</g>
<line x1="6.4" y1="233.19" x2="961.0" y2="233.19" stroke="#ff9800" stroke-width="0.8" stroke-dasharray="0.9 1.85"/>
<line x1="6.4" y1="244.62" x2="981.5" y2="244.62" stroke="#ef5350" stroke-width="0.8" stroke-dasharray="0.9 1.85"/>
<g stroke="#ebecef" stroke-width="1" fill="none">
<rect x="6.4" y="17.5" width="1011.0" height="533.7"/>
<line x1="981.5" y1="17.5" x2="981.5" y2="551.2"/>
<line x1="6.4" y1="533.0" x2="1017.4" y2="533.0"/>
</g>
<g fill="#4e515b" font-size="8.5">
<text x="988" y="507.65" textLength="22.8" lengthAdjust="spacingAndGlyphs">240.00</text>
<text x="988" y="477.49" textLength="22.8" lengthAdjust="spacingAndGlyphs">250.00</text>
<text x="988" y="447.32" textLength="22.8" lengthAdjust="spacingAndGlyphs">260.00</text>
<text x="988" y="417.15" textLength="22.8" lengthAdjust="spacingAndGlyphs">270.00</text>
<text x="988" y="386.99" textLength="22.8" lengthAdjust="spacingAndGlyphs">280.00</text>
<text x="988" y="356.82" textLength="22.8" lengthAdjust="spacingAndGlyphs">290.00</text>
<text x="988" y="326.65" textLength="22.8" lengthAdjust="spacingAndGlyphs">300.00</text>
<text x="988" y="296.49" textLength="22.8" lengthAdjust="spacingAndGlyphs">310.00</text>
<text x="988" y="266.32" textLength="22.8" lengthAdjust="spacingAndGlyphs">320.00</text>
<text x="988" y="236.15" textLength="22.8" lengthAdjust="spacingAndGlyphs">330.00</text>
<text x="988" y="205.99" textLength="22.8" lengthAdjust="spacingAndGlyphs">340.00</text>
<text x="988" y="175.82" textLength="22.8" lengthAdjust="spacingAndGlyphs">350.00</text>
<text x="988" y="145.65" textLength="22.8" lengthAdjust="spacingAndGlyphs">360.00</text>
<text x="988" y="115.48" textLength="22.8" lengthAdjust="spacingAndGlyphs">370.00</text>
<text x="988" y="85.32" textLength="22.8" lengthAdjust="spacingAndGlyphs">380.00</text>
<text x="988" y="55.15" textLength="22.8" lengthAdjust="spacingAndGlyphs">390.00</text>
<text x="988" y="24.98" textLength="22.8" lengthAdjust="spacingAndGlyphs">400.00</text>
</g>
<rect x="990.8" y="23.6" width="17" height="9.8" rx="2" fill="#fff" stroke="#e6e9ee" stroke-width="1"/>
<text x="992.4" y="31.6" font-size="8.6" textLength="13.6" lengthAdjust="spacingAndGlyphs" fill="#4e515b">USD</text>
<rect x="961.2" y="228.2" width="18.9" height="10.9" fill="#ff9800"/>
<rect x="981" y="228.2" width="34" height="10.9" fill="#ff9800"/>
<rect x="981" y="239.1" width="34" height="11.1" fill="#ef5350"/>
<g fill="#fff" font-size="8.5">
<text x="965.4" y="236.6" textLength="10.5" lengthAdjust="spacingAndGlyphs">Pre</text>
<text x="988" y="236.6" textLength="22.6" lengthAdjust="spacingAndGlyphs">330.02</text>
<text x="988" y="247.6" textLength="22.6" lengthAdjust="spacingAndGlyphs">326.23</text>
</g>
<g fill="#4e515b" font-size="8.5">
<text x="31.05" y="544.7" textLength="12.9" lengthAdjust="spacingAndGlyphs">Nov</text>
<text x="110.21" y="544.7" textLength="10.7" lengthAdjust="spacingAndGlyphs">Dic</text>
<text x="192.83" y="544.7" textLength="17.2" lengthAdjust="spacingAndGlyphs" font-weight="bold" fill="#353945">2021</text>
<text x="269.23" y="544.7" textLength="12.7" lengthAdjust="spacingAndGlyphs">Feb</text>
<text x="343.49" y="544.7" textLength="12.5" lengthAdjust="spacingAndGlyphs">Mar</text>
<text x="433.76" y="544.7" textLength="11.5" lengthAdjust="spacingAndGlyphs">Apr</text>
<text x="509.57" y="544.7" textLength="23.8" lengthAdjust="spacingAndGlyphs">Maggio</text>
<text x="593.83" y="544.7" textLength="11.4" lengthAdjust="spacingAndGlyphs">Giu</text>
<text x="679.95" y="544.7" textLength="10.9" lengthAdjust="spacingAndGlyphs">Lug</text>
<text x="761.11" y="544.7" textLength="12.5" lengthAdjust="spacingAndGlyphs">Ago</text>
<text x="847.73" y="544.7" textLength="11.0" lengthAdjust="spacingAndGlyphs">Set</text>
<text x="929.49" y="544.7" textLength="11.4" lengthAdjust="spacingAndGlyphs">Ott</text>
</g>
<path d="M29.79 518.00 L35.19 521.60 L35.19 528.80 Q35.19 530.30 33.69 530.30 L25.89 530.30 Q24.39 530.30 24.39 528.80 L24.39 521.60 Z" fill="#fff" stroke="#26a69a" stroke-width="1.3" stroke-linejoin="round"/><text x="28.04" y="528.2" font-size="8.4" font-weight="bold" textLength="3.7" lengthAdjust="spacingAndGlyphs" fill="#26a69a">E</text>
<path d="M263.97 518.00 L269.37 521.60 L269.37 528.80 Q269.37 530.30 267.87 530.30 L260.07 530.30 Q258.57 530.30 258.57 528.80 L258.57 521.60 Z" fill="#fff" stroke="#26a69a" stroke-width="1.3" stroke-linejoin="round"/><text x="262.22" y="528.2" font-size="8.4" font-weight="bold" textLength="3.7" lengthAdjust="spacingAndGlyphs" fill="#26a69a">E</text>
<path d="M509.86 518.00 L515.26 521.60 L515.26 528.80 Q515.26 530.30 513.76 530.30 L505.96 530.30 Q504.46 530.30 504.46 528.80 L504.46 521.60 Z" fill="#fff" stroke="#26a69a" stroke-width="1.3" stroke-linejoin="round"/><text x="508.11" y="528.2" font-size="8.4" font-weight="bold" textLength="3.7" lengthAdjust="spacingAndGlyphs" fill="#26a69a">E</text>
<path d="M755.75 518.00 L761.15 521.60 L761.15 528.80 Q761.15 530.30 759.65 530.30 L751.85 530.30 Q750.35 530.30 750.35 528.80 L750.35 521.60 Z" fill="#fff" stroke="#26a69a" stroke-width="1.3" stroke-linejoin="round"/><text x="754.00" y="528.2" font-size="8.4" font-weight="bold" textLength="3.7" lengthAdjust="spacingAndGlyphs" fill="#26a69a">E</text>
<text x="6.8" y="12.4" font-size="8.5" fill="#3a3d48" textLength="252.7" lengthAdjust="spacingAndGlyphs">hillarydilernia published on TradingView.com, Ott 05, 2021 13:36 UTC+2</text>
<g font-size="8.5">
<text x="11.7" y="29.9" fill="#4e515b" textLength="99.7" lengthAdjust="spacingAndGlyphs">Facebook, Inc., 1D, NASDAQ</text>
<text x="116.0" y="29.9" fill="#4e515b" textLength="30.2" lengthAdjust="spacingAndGlyphs">O - Aper.</text>
<text x="147.0" y="29.9" fill="#ef5350" textLength="23.2" lengthAdjust="spacingAndGlyphs">335.53</text>
<text x="174.7" y="29.9" fill="#4e515b" textLength="27.5" lengthAdjust="spacingAndGlyphs">H - Max.</text>
<text x="204.5" y="29.9" fill="#ef5350" textLength="23.2" lengthAdjust="spacingAndGlyphs">335.94</text>
<text x="232.4" y="29.9" fill="#4e515b" textLength="25.8" lengthAdjust="spacingAndGlyphs">L - Min.</text>
<text x="259.0" y="29.9" fill="#ef5350" textLength="23.4" lengthAdjust="spacingAndGlyphs">322.70</text>
<text x="287.2" y="29.9" fill="#4e515b" textLength="32.6" lengthAdjust="spacingAndGlyphs">C - Chius.</text>
<text x="321.0" y="29.9" fill="#ef5350" textLength="23.2" lengthAdjust="spacingAndGlyphs">326.23</text>
<text x="349.7" y="29.9" fill="#ef5350" textLength="55.3" lengthAdjust="spacingAndGlyphs">−16.78 (−4.89%)</text>
<text x="11.7" y="40.6" fill="#4e515b" textLength="10.4" lengthAdjust="spacingAndGlyphs">Vol</text>
<text x="27" y="40.6" fill="#ef5350" textLength="29.4" lengthAdjust="spacingAndGlyphs">42.885M</text>
</g>
<g fill="#1e222d" transform="translate(0,0)"><path d="M6.4 559.1h6.3v6.5h-3.4v-3.6h-2.9z"/><circle cx="14.1" cy="560.6" r="1.4"/><path d="M16.2 559.1h3.0l-2.4 6.5h-3.3z"/></g>
<text x="21.9" y="565.7" font-size="9.8" fill="#4a4e59" textLength="45.8" lengthAdjust="spacingAndGlyphs">TradingView</text>
</svg></body></html>
